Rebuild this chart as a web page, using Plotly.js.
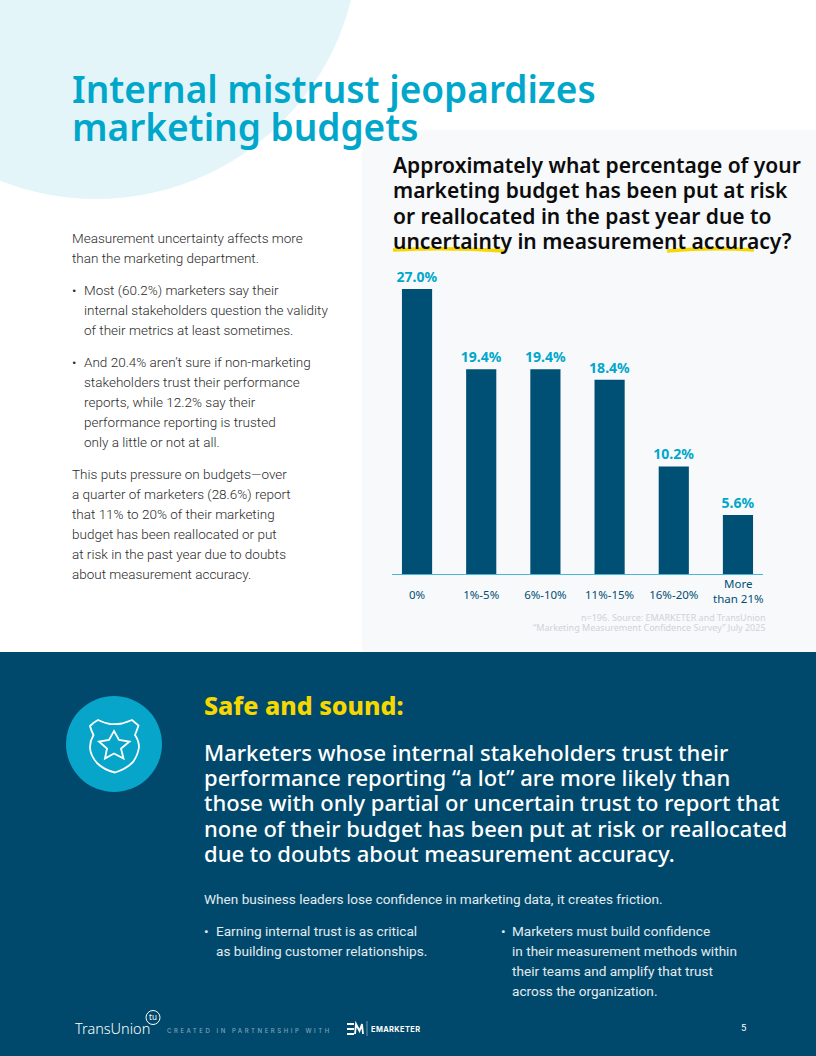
<!DOCTYPE html>
<html>
<head>
<meta charset="utf-8">
<script src="https://cdn.plot.ly/plotly-3.0.1.min.js"></script>
<style>
html,body{margin:0;padding:0;background:#fff}
#chart{width:816px;height:1056px}
</style>
</head>
<body>
<div id="chart"></div>
<script>
// ---------- data ----------
const categories = ['0%','1%-5%','6%-10%','11%-15%','16%-20%'];
const lastCategory = 'More<br>than 21%';
const values = [27.0,19.4,19.4,18.4,10.2,5.6];

const titleLines = ['Internal mistrust jeopardizes','marketing budgets'];
const questionLines = ['Approximately what percentage of your','marketing budget has been put at risk','or reallocated in the past year due to','uncertainty in measurement accuracy?'];
const introLines = ['Measurement uncertainty affects more','than the marketing department.'];
const bulletOne = ['Most (60.2%) marketers say their','internal stakeholders question the validity','of their metrics at least sometimes.'];
const bulletTwo = ['And 20.4% aren’t sure if non-marketing','stakeholders trust their performance','reports, while 12.2% say their','performance reporting is trusted','only a little or not at all.'];
const closingLines = ['This puts pressure on budgets—over','a quarter of marketers (28.6%) report','that 11% to 20% of their marketing','budget has been reallocated or put','at risk in the past year due to doubts','about measurement accuracy.'];
const sourceLines = ['n=196. Source: EMARKETER and TransUnion','“Marketing Measurement Confidence Survey” July 2025'];
const calloutHead = 'Safe and sound:';
const calloutLines = ['Marketers whose internal stakeholders trust their','performance reporting “a lot” are more likely than','those with only partial or uncertain trust to report that','none of their budget has been put at risk or reallocated','due to doubts about measurement accuracy.'];
const frictionLine = 'When business leaders lose confidence in marketing data, it creates friction.';
const leftBullet = ['Earning internal trust is as critical','as building customer relationships.'];
const rightBullet = ['Marketers must build confidence','in their measurement methods within','their teams and amplify that trust','across the organization.'];

// ---------- helpers ----------
const W = 816, H = 1056;
const px = x => x / W, py = y => 1 - y / H;
const P = (x, y) => px(x) + ',' + py(y);
const pathOf = segs => segs.map(s => s[0] + ' ' + s.slice(1).map(c => P(c[0], c[1])).join(' ')).join(' ');
const annotations = [];
const cssRules = [];
function label(x, y, text, font, anchor, spacing) {
  annotations.push({xref:'paper', yref:'paper', x:px(x), y:py(y), text:text, showarrow:false,
    xanchor:anchor||'left', yanchor:'middle', align:anchor||'left', borderpad:0, font:font});
  if (spacing) cssRules.push('.annotation[data-index="'+(annotations.length-1)+'"] text{letter-spacing:'+spacing+'px}');
}
function block(x, ys, lines, font, spacing) { lines.forEach((t,i) => label(x, ys[i], t, font, null, spacing)); }

const DARK = '#00496c', BAR = '#004f74', TEAL = '#00a7cb', YEL = '#f6d800';
const headFont = '"Noto Sans", sans-serif';
const fTitle = {family:headFont, size:37, color:TEAL, weight:600};
const fQuestion = {family:headFont, size:21, color:'#0c0c0c', weight:600};
const fBody = {family:'Roboto', size:13.5, color:'#2b2b2b', weight:300};
const fCallHead = {family:headFont, size:25, color:YEL, weight:800};
const fCall = {family:headFont, size:22, color:'#ffffff', weight:500};
const fWhite = {family:'Roboto', size:13.6, color:'#e3ebf0', weight:400};
const fTick = {family:headFont, size:11.5, color:BAR, weight:400};

block(71,[88,126],titleLines,fTitle);
block(392,[165,190,216,241],questionLines,fQuestion);
block(71,[238,258],introLines,fBody);
label(71,290,'•',fBody); block(83,[290,310,330],bulletOne,fBody);
label(71,362,'•',fBody); block(83,[362,382,402,422,442],bulletTwo,fBody);
block(71,[474,494,514,534,554,574],closingLines,fBody);
label(738,591,lastCategory,fTick,'center');
const fSrc = {family:headFont, size:9, color:'#cfd3d8', weight:400};
label(767,617,sourceLines[0],fSrc,'right');
label(767,627,sourceLines[1],fSrc,'right');
label(203,705,calloutHead,fCallHead);
block(203,[752,777,802,828,853],calloutLines,fCall);
label(203,899,frictionLine,fWhite);
label(203,931,'•',fWhite); block(215,[931,951],leftBullet,fWhite);
label(500,931,'•',fWhite); block(511,[931,951,971,991],rightBullet,fWhite);
label(74,1028,'TransUnion',{family:headFont,size:14.5,color:'#fff',weight:300});
label(153,1016,'tu',{family:headFont,size:8,color:'#fff',weight:400},'center');
label(166,1030,'CREATED IN PARTNERSHIP WITH',{family:'Inter',size:6,color:'#7fa3b9',weight:500},'left',2.55);
label(370,1029,'EMARKETER',{family:'Inter',size:7.4,color:'#fff',weight:700},'left',0.4);
label(743,1027,'5',{family:'Roboto',size:9.5,color:'#fff',weight:400},'center');

const shapes = [
  {type:'circle', xref:'paper', yref:'paper', x0:px(96-263), x1:px(96+263), y0:py(-64+263), y1:py(-64-263), fillcolor:'#e4f5fa', line:{width:0}, layer:'below'},
  {type:'path', xref:'paper', yref:'paper', layer:'below', fillcolor:'#f7f9fb', line:{width:0},
   path:pathOf([['M',[816,130]],['L',[384,130]],['Q',[362,130],[362,152]],['L',[362,652]],['L',[816,652]],['Z']])},
  {type:'rect', xref:'paper', yref:'paper', layer:'below', x0:0, x1:1, y0:0, y1:py(652), fillcolor:DARK, line:{width:0}},
  // highlight strokes
  {type:'path', xref:'paper', yref:'paper', layer:'below', line:{color:YEL,width:3.5},
   path:pathOf([['M',[393,250]],['Q',[450,247],[504,251]]])},
  {type:'path', xref:'paper', yref:'paper', layer:'below', line:{color:YEL,width:3.5},
   path:pathOf([['M',[667,251]],['Q',[710,247],[754,250]]])},
  // icon
  {type:'circle', xref:'paper', yref:'paper', layer:'below', x0:px(66), x1:px(162), y0:py(792), y1:py(696), fillcolor:'#07a5c9', line:{width:0}},
  {type:'path', xref:'paper', yref:'paper', layer:'below', line:{color:'#fff',width:1.8},
   path:pathOf([['M',[90,726]],['Q',[94,722],[98,720]],['Q',[104,723],[110,724]],['Q',[116,724.5],[122,723.5]],['Q',[127,722],[132,720]],['L',[138.5,725.5]],['Q',[137,730],[135,735]],['Q',[139,741],[139,747]],['Q',[138,755],[133,762]],['Q',[126,769],[115,772.5]],['Q',[104,770],[97,763]],['Q',[90,755],[90,747]],['Q',[90,741],[93.5,735]],['Q',[91,730],[90,726]],['Z']])},
  {type:'path', xref:'paper', yref:'paper', layer:'below', line:{color:'#fff',width:1.8},
   path:pathOf([['M',[114,731]],['L',[119,740]],['L',[129.5,741.5]],['L',[121,748.5]],['L',[123.5,758.5]],['L',[114,753.5]],['L',[105,758.5]],['L',[107,748.5]],['L',[99,741.5]],['L',[109,740]],['Z']])},
  // footer marks
  {type:'circle', xref:'paper', yref:'paper', layer:'below', x0:px(146), x1:px(160), y0:py(1024.5), y1:py(1010.5), line:{color:'#fff',width:1}},
  {type:'path', xref:'paper', yref:'paper', layer:'below', line:{color:'#fff',width:1.8},
   path:pathOf([['M',[347,1024]],['L',[354,1024]],['M',[347,1029]],['L',[354,1029]],['M',[347,1034]],['L',[354,1034]],['M',[355,1034]],['L',[356,1024]],['L',[359.5,1031]],['L',[362,1024]],['L',[363,1034]]])},
  {type:'path', xref:'paper', yref:'paper', layer:'below', line:{color:'#9db8c8',width:0.7},
   path:pathOf([['M',[367,1021]],['L',[367,1036]]])}
];

const xLabels = categories.concat(['']);
const xPos = values.map((v,i) => i);
const trace = {
  type:'bar', x:xPos, y:values, width:0.47,
  marker:{color:BAR, line:{width:0}},
  text:values.map(v => v.toFixed(1)+'%'), textposition:'outside', cliponaxis:false, constraintext:'none',
  textfont:{family:headFont, size:14, color:TEAL, weight:700},
  hoverinfo:'skip'
};
const layout = {
  width:W, height:H, margin:{l:0,r:0,t:0,b:0,pad:0},
  paper_bgcolor:'#ffffff', plot_bgcolor:'rgba(0,0,0,0)', showlegend:false,
  shapes:shapes, annotations:annotations,
  font:{family:headFont},
  xaxis:{domain:[px(392),px(763)], range:[-0.39,5.39], tickmode:'array', tickvals:xPos, ticktext:xLabels,
    ticks:'', showgrid:false, zeroline:false, showline:true, linecolor:'#45b8d8', linewidth:1,
    tickfont:fTick, ticklabelstandoff:10, fixedrange:true, tickangle:0, anchor:'y'},
  yaxis:{domain:[py(574),py(260)], range:[0,29.76], visible:false, fixedrange:true}
};
const st = document.createElement('style');
st.textContent = cssRules.join('\n');
document.head.appendChild(st);
Plotly.newPlot('chart',[trace],layout,{displayModeBar:false,staticPlot:true,responsive:false});
</script>
</body>
</html>
